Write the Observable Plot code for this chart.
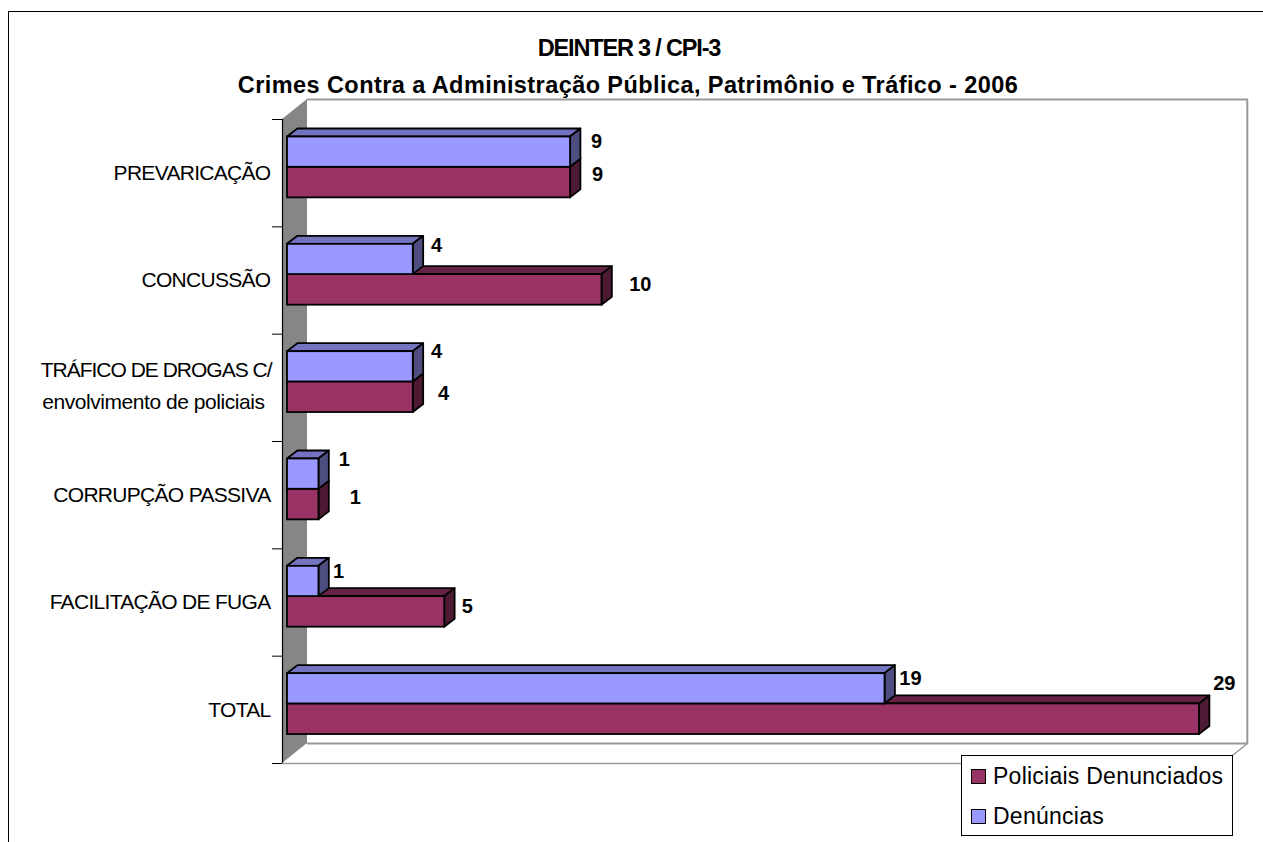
<!DOCTYPE html>
<html lang="pt">
<head>
<meta charset="utf-8">
<title>DEINTER 3 / CPI-3</title>
<script src="https://cdn.jsdelivr.net/npm/d3@7"></script>
<script src="https://cdn.jsdelivr.net/npm/@observablehq/plot@0.6"></script>
<style>
  html, body { margin: 0; padding: 0; background: #fff; overflow: hidden; }
  #stage { position: relative; width: 1263px; height: 842px; font-family: "Liberation Sans", Arial, sans-serif; }
  #frame { position: absolute; left: 8px; top: 11px; right: -4px; bottom: -4px; border: 1.5px solid #000; }
  #chart { position: absolute; left: 0; top: 0; }
  #legend { position: absolute; left: 961px; top: 755px; width: 270px; height: 79px; border: 1px solid #000; background: #fff; font-size: 23px; color: #000; }
  #legend .row { position: absolute; left: 9px; display: flex; align-items: center; white-space: nowrap; letter-spacing: .25px; }
  #legend .swatch { width: 13px; height: 13px; border: 1.5px solid #000; margin-right: 7px; }
</style>
</head>
<body>
<div id="stage">
  <div id="frame"></div>
  <div id="chart"></div>
  <div id="legend">
    <div class="row" style="top:7px"><span class="swatch" style="background:#993366"></span>Policiais Denunciados</div>
    <div class="row" style="top:47px"><span class="swatch" style="background:#9999FF"></span>Denúncias</div>
  </div>
</div>
<script>
const titleLines = ["DEINTER 3 / CPI-3", "Crimes Contra a Administração Pública, Patrimônio e Tráfico - 2006"];
const categories = ["PREVARICAÇÃO", "CONCUSSÃO", "TRÁFICO DE DROGAS C/\nenvolvimento de policiais", "CORRUPÇÃO PASSIVA", "FACILITAÇÃO DE FUGA", "TOTAL"];
const denuncias = [9, 4, 4, 1, 1, 19];
const policiais = [9, 10, 4, 1, 5, 29];

// Layout, in the units of the two scales (x: count, y: category slot)
const depthX = 0.33, depthY = 0.0745;
const blueTop = 0.163, split = 0.445, redBottom = 0.73;
const denunciasGapX = [0.825, 0.74, 0.74, 0.81, 0.62, 0.81];
const policiaisGapX = [0.86, 1.22, 0.96, 1.16, 0.72, 0.79];
const denunciasLabelY = [0.205, 0.174, 0.16, 0.168, 0.21, 0.21];
const policiaisLabelY = [0.512, 0.537, 0.553, 0.522, 0.537, 0.255];
const axisX = -0.159, tickX = -0.477, backX = 0.636, rightX = 30.52, floorRightX = 29.73;
const backTop = -0.186, backBottom = 5.814;

const font = "Liberation Sans";
const ink = "#000";
const wallGray = "#868686", lineGray = "#999";
const outline = 1.8;

function series(values, top, bottom, id) {
  return values.map((v, i) => ({id: id + i, i, v, top: i + top, bottom: i + bottom}));
}
const red = series(policiais, split, redBottom, "r");
const blue = series(denuncias, blueTop, split, "b");

const topFace = rows => rows.flatMap(d => [
  {id: d.id, y: d.top, x1: 0, x2: d.v},
  {id: d.id, y: d.top - depthY, x1: depthX, x2: d.v + depthX}
]);
const sideFace = rows => rows.flatMap(d => [
  {id: d.id, x: d.v, y1: d.top, y2: d.bottom},
  {id: d.id, x: d.v + depthX, y1: d.top - depthY, y2: d.bottom - depthY}
]);
const barMarks = (rows, front, top, side) => [
  Plot.areaX(topFace(rows), {x1: "x1", x2: "x2", y: "y", z: "id", fill: top, stroke: ink, strokeWidth: outline}),
  Plot.areaY(sideFace(rows), {x: "x", y1: "y1", y2: "y2", z: "id", fill: side, stroke: ink, strokeWidth: outline}),
  Plot.rect(rows, {x1: 0, x2: "v", y1: "top", y2: "bottom", fill: front, stroke: ink, strokeWidth: outline})
];

const wall = [
  {x: axisX, y1: 0, y2: 6},
  {x: backX, y1: backTop, y2: backBottom}
];
const backOutline = [
  {x: backX, y: backTop}, {x: rightX, y: backTop}, {x: rightX, y: backBottom}, {x: backX, y: backBottom}
];
const floorOutline = [
  {x: axisX, y: 6}, {x: floorRightX, y: 6}, {x: rightX, y: backBottom}
];

// Plot has no letter-spacing option for text, so it is set on the mark's group
const spaced = px => function (index, scales, values, dimensions, context, next) {
  const g = next(index, scales, values, dimensions, context);
  g.setAttribute("letter-spacing", px);
  return g;
};

const categoryLabels = categories.map((name, i) => ({name, y: i + 0.5}));
const singleLine = categoryLabels.filter(d => !d.name.includes("\n"));
const twoLine = categoryLabels.filter(d => d.name.includes("\n"));
const lineOf = n => d => d.name.split("\n")[n];
const labelStyle = {fontFamily: font, fontSize: 21, fill: ink};
const valueStyle = {fontFamily: font, fontSize: 20, fontWeight: "bold", fill: ink};
const titleStyle = {frameAnchor: "top", fontFamily: font, fontSize: 23.5, fontWeight: "bold", fill: ink, lineAnchor: "middle"};

const chart = Plot.plot({
  width: 1263,
  height: 842,
  margin: 0,
  style: {background: "transparent", overflow: "visible"},
  x: {domain: [0, 29], range: [287, 1199], axis: null},
  y: {domain: [0, 6], range: [119, 763], axis: null},
  marks: [
    Plot.text([titleLines[0]], {...titleStyle, dx: -3, dy: 48, render: spaced(-1.18)}),
    Plot.text([titleLines[1]], {...titleStyle, dx: -4, dy: 85, render: spaced(0.42)}),

    Plot.line(floorOutline, {x: "x", y: "y", stroke: lineGray, strokeWidth: 1.5}),
    Plot.line(backOutline, {x: "x", y: "y", stroke: lineGray, strokeWidth: 2}),
    Plot.areaY(wall, {x: "x", y1: "y1", y2: "y2", fill: wallGray}),
    Plot.ruleX([axisX], {y1: 0, y2: 6, stroke: ink, strokeWidth: 1.2}),
    Plot.ruleY(d3.range(0, 7), {x1: tickX, x2: axisX, stroke: ink, strokeWidth: 1}),

    ...barMarks(red, "#993366", "#662244", "#4D1A33"),
    ...barMarks(blue, "#9999FF", "#7373BF", "#4D4D80"),

    Plot.text(denuncias, {x: (v, i) => v + denunciasGapX[i], y: (v, i) => i + denunciasLabelY[i], text: v => String(v), ...valueStyle}),
    Plot.text(policiais, {x: (v, i) => v + policiaisGapX[i], y: (v, i) => i + policiaisLabelY[i], text: v => String(v), ...valueStyle}),

    Plot.text(singleLine, {x: 0, y: "y", text: "name", textAnchor: "end", dx: -17, render: spaced(-0.7), ...labelStyle}),
    Plot.text(twoLine, {x: 0, y: "y", text: lineOf(0), textAnchor: "end", dx: -16, dy: -18, render: spaced(-1), ...labelStyle}),
    Plot.text(twoLine, {x: 0, y: "y", text: lineOf(1), textAnchor: "end", dx: -23, dy: 14, render: spaced(-0.45), ...labelStyle})
  ]
});
document.getElementById("chart").append(chart);
</script>
</body>
</html>
